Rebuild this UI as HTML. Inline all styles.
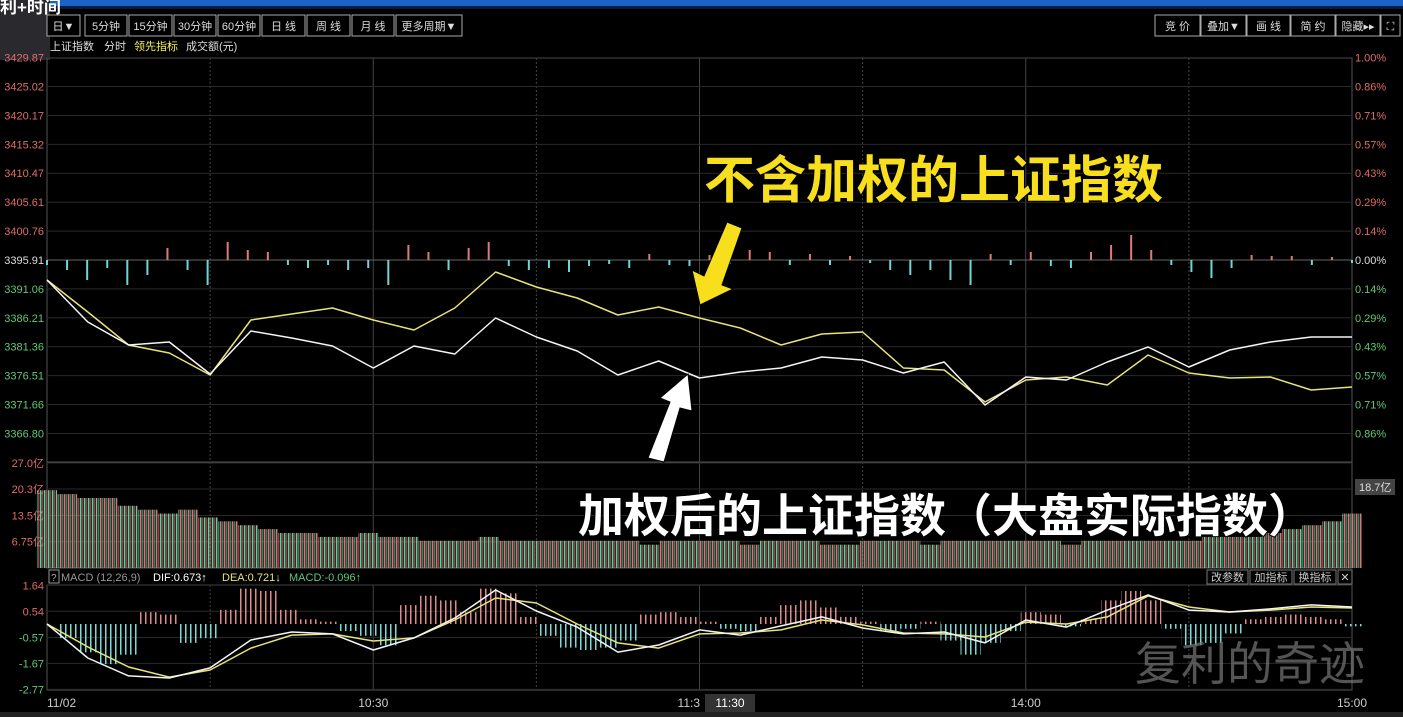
<!DOCTYPE html>
<html><head><meta charset="utf-8"><style>
body{margin:0;background:#000;width:1403px;height:717px;overflow:hidden;font-family:"Liberation Sans","Noto Sans CJK SC",sans-serif}
svg{display:block}
</style></head><body>
<svg id="c" width="1403" height="717" xmlns="http://www.w3.org/2000/svg">
<defs>
<pattern id="pRed" width="4" height="4" patternUnits="userSpaceOnUse"><rect x="0" y="0" width="1.5" height="4" fill="#d07878"/><rect x="2" y="0" width="1.5" height="4" fill="#6ec89a" fill-opacity="0.6"/></pattern>
<pattern id="pGreen" width="4" height="4" patternUnits="userSpaceOnUse"><rect x="0" y="0" width="1.5" height="4" fill="#6ec89a"/><rect x="2" y="0" width="1.5" height="4" fill="#d07878" fill-opacity="0.6"/></pattern>
<pattern id="pMR" width="5" height="4" patternUnits="userSpaceOnUse"><rect x="0" y="0" width="1.5" height="4" fill="#e08a8a"/></pattern>
<pattern id="pMC" width="5" height="4" patternUnits="userSpaceOnUse"><rect x="0" y="0" width="1.5" height="4" fill="#7adada"/></pattern>
</defs>
</svg>
<script>
const priceLevels=[3429.87,3425.02,3420.17,3415.32,3410.47,3405.61,3400.76,3395.91,3391.06,3386.21,3381.36,3376.51,3371.66,3366.80];
const pctLabels=["1.00%","0.86%","0.71%","0.57%","0.43%","0.29%","0.14%","0.00%","0.14%","0.29%","0.43%","0.57%","0.71%","0.86%"];
const whitePrice=[3392.55,3385.51,3381.65,3382.15,3376.78,3384.0,3382.82,3381.48,3377.79,3381.48,3380.14,3386.18,3382.99,3380.64,3376.61,3378.96,3376.11,3377.12,3377.79,3379.63,3379.13,3376.95,3378.79,3371.58,3376.28,3375.77,3378.79,3381.31,3377.96,3380.81,3382.15,3382.99,3382.99];
const yellowPrice=[3392.55,3387.18,3381.65,3380.30,3376.61,3385.84,3386.85,3387.86,3385.84,3384.16,3387.86,3393.90,3391.38,3389.53,3386.68,3388.02,3386.18,3384.50,3381.65,3383.49,3383.83,3377.79,3377.45,3372.08,3375.77,3376.28,3374.93,3379.97,3376.95,3376.11,3376.28,3374.09,3374.60];
const leadBars=[-5,-10,-20,-8,-25,-15,12,-10,-25,18,10,8,-5,-8,-5,-10,-8,-25,15,8,-10,12,18,-6,-10,-8,-12,-6,-4,-8,6,-5,-6,5,-4,10,8,-5,6,-5,4,-3,-10,-15,-10,-20,-25,6,-5,8,-6,-8,8,15,25,10,-5,-12,-18,-8,5,4,4,-5,3,-3];
const volume=[20,19,18,18,16,15,14,15,13,12,11,10,9,9,8,8,9,8,8,7,7,7,8,7,7,7,7,7,7,7,6,7,7,7,7,6,7,7,7,6,6,7,7,7,6,7,7,7,7,7,7,6,7,7,7,7,7,7,8,8,8,9,10,11,12,14];
const volTicks=["27.0亿","20.3亿","13.5亿","6.75亿"];
const volTickVals=[27,20.3,13.5,6.75];
const dif=[0,-1.44,-2.20,-2.29,-1.86,-0.68,-0.34,-0.42,-1.10,-0.59,0.25,1.44,0.55,-0.13,-1.19,-0.89,-0.25,-0.47,-0.08,0.30,-0.17,-0.42,-0.34,-0.80,0.17,-0.13,0.59,1.23,0.59,0.51,0.64,0.81,0.72];
const dea=[0,-0.97,-1.82,-2.25,-1.95,-1.02,-0.47,-0.42,-0.72,-0.59,0.17,1.10,0.89,0,-0.80,-1.02,-0.42,-0.38,-0.25,0.17,-0.04,-0.38,-0.42,-0.55,0.08,0,0.30,1.19,0.72,0.51,0.59,0.72,0.68];
const macdHist=[0,-0.6,-1.2,-1.7,-1.3,0.5,0.4,-0.8,-0.6,0.6,1.5,1.4,0.6,0.2,0.1,-0.3,-0.5,-0.9,0.8,1.2,1.0,0.5,1.5,1.3,0.3,-0.5,-1.0,-1.1,-1.0,-0.7,0.4,0.5,0.3,0.1,-0.2,-0.3,0.3,0.8,1.0,0.7,0.3,0.1,-0.3,-0.2,0.1,-0.7,-1.3,-0.8,-0.3,0.5,0.4,-0.1,0.2,1.0,1.4,1.0,-0.2,-0.9,-0.8,-0.4,0.2,0.3,0.4,0.3,0.2,-0.1];
const macdTicks=[1.64,0.54,-0.57,-1.67,-2.77];
const timeLabels=["11/02","10:30","14:00","15:00"];
const timeFrac=[0,0.25,0.75,1];

const S=document.getElementById('c');const NS="http://www.w3.org/2000/svg";
function el(t,a,txt){const e=document.createElementNS(NS,t);for(const k in a)e.setAttribute(k,a[k]);if(txt!==undefined)e.textContent=txt;S.appendChild(e);return e;}
const X0=47,X1=1352;
const xIdx=(i,n)=>X0+(X1-X0)*i/(n-1);
const yPrice=p=>260-(p-3395.91)/4.85*28.9;
const yVol=v=>568-v*3.89;
const yMacd=v=>624-v*23.6;

let e=el('rect',{x:0,y:0,width:1403,height:6,fill:'#1a63c6'});

el('rect',{x:0,y:6,width:1403,height:3,fill:'#0a1a40'});
e=el('rect',{x:0,y:0,width:50,height:60,fill:'#2a2a2e'});

e=el('text',{x:0,y:13,fill:'#fff','font-size':17,'font-weight':'bold'},'利+时间');


const leftBtns=[["日▼",47,80],["5分钟",85,127],["15分钟",129,172],["30分钟",174,216],["60分钟",218,260],["日 线",262,305],["周 线",307,350],["月 线",352,394],["更多周期▼",396,462]];
leftBtns.forEach(b=>{const r=el('rect',{x:b[1],y:15,width:b[2]-b[1],height:21,fill:'#000',stroke:'#aaa','stroke-width':1});

el('text',{x:(b[1]+b[2])/2,y:30,fill:'#ddd','font-size':11,'text-anchor':'middle'},b[0]);});
const rightBtns=[["竞 价",1155,1200],["叠加▼",1201,1246],["画 线",1247,1290],["简 约",1291,1335],["隐藏▸▸",1336,1380],["⛶",1381,1400]];
rightBtns.forEach(b=>{const r=el('rect',{x:b[1],y:15,width:b[2]-b[1],height:21,fill:'#000',stroke:'#aaa','stroke-width':1});

el('text',{x:(b[1]+b[2])/2,y:30,fill:'#ddd','font-size':11,'text-anchor':'middle'},b[0]);});
e=el('text',{x:50,y:50,fill:'#ddd','font-size':11},'上证指数');
e=el('text',{x:104,y:50,fill:'#ddd','font-size':11},'分时');
e=el('text',{x:134,y:50,fill:'#f0f060','font-size':11},'领先指标');
e=el('text',{x:186,y:50,fill:'#ddd','font-size':11},'成交额(元)');

e=el('rect',{x:X0,y:58,width:X1-X0,height:404,fill:'none',stroke:'#555'});
e=el('rect',{x:X0,y:462,width:X1-X0,height:106,fill:'none',stroke:'#555'});
e=el('rect',{x:X0,y:585,width:X1-X0,height:105,fill:'none',stroke:'#555'});
for(let k=1;k<8;k++){const x=X0+(X1-X0)*k/8;
[[58,462],[462,568],[585,690]].forEach(r=>el('line',{x1:x,x2:x,y1:r[0],y2:r[1],stroke:'#444','stroke-width':1,'stroke-dasharray':k%2?'2,2':''}));}

priceLevels.forEach((p,i)=>{const y=yPrice(p);
el('line',{x1:X0,x2:X1,y1:y,y2:y,stroke:i==7?'#666':'#2a2a2a','stroke-width':1});
const col=i<7?'#e06b6b':(i==7?'#ddd':'#5fc87a');
e=el('text',{x:44,y:y+4,fill:col,'font-size':11,'text-anchor':'end'},p.toFixed(2));

e=el('text',{x:1355,y:y+4,fill:col,'font-size':11},pctLabels[i]);
});

leadBars.forEach((v,i)=>{const x=xIdx(i,leadBars.length);
e=el('line',{x1:x,x2:x,y1:260,y2:260-v,stroke:v>0?'#e07a7a':'#6fd6d6','stroke-width':2});
});

function line(arr,yf,col,name){const n=arr.length;const d=arr.map((v,i)=>(i?'L':'M')+xIdx(i,n).toFixed(1)+','+yf(v).toFixed(1)).join('');
const p=el('path',{d:d,fill:'none',stroke:col,'stroke-width':1.5,'stroke-linejoin':'round'});}
line(yellowPrice,yPrice,'#e8e27a','unweighted-index-line');
line(whitePrice,yPrice,'#f4f4f4','weighted-index-line');

volTickVals.forEach((v,i)=>{const y=yVol(v);el('line',{x1:X0,x2:X1,y1:y,y2:y,stroke:'#2a2a2a'});
e=el('text',{x:44,y:y+4,fill:'#e06b6b','font-size':11,'text-anchor':'end'},volTicks[i]);});
const vw=(X1-X0)/(volume.length-1);
volume.forEach((v,i)=>{const x=xIdx(i,volume.length);
e=el('rect',{x:x-vw/2,y:yVol(v),width:vw,height:568-yVol(v),fill:i%2?'url(#pRed)':'url(#pGreen)'});
});
e=el('rect',{x:1355,y:479,width:40,height:16,fill:'#444'});
el('text',{x:1359,y:491,fill:'#ddd','font-size':11},'18.7亿');

e=el('rect',{x:49,y:570,width:10,height:13,fill:'none',stroke:'#999'});
el('text',{x:51,y:581,fill:'#aaa','font-size':10},'?');
e=el('text',{x:61,y:581,fill:'#999','font-size':11},'MACD (12,26,9)');
el('text',{x:153,y:581,fill:'#fff','font-size':11},'DIF:0.673↑');
el('text',{x:222,y:581,fill:'#e8e27a','font-size':11},'DEA:0.721↓');
el('text',{x:289,y:581,fill:'#5fc87a','font-size':11},'MACD:-0.096↑');
[["改参数",1207,1248],["加指标",1250,1292],["换指标",1294,1336],["✕",1338,1352]].forEach(b=>{const r=el('rect',{x:b[1],y:570,width:b[2]-b[1],height:14,fill:'#000',stroke:'#777'});

el('text',{x:(b[1]+b[2])/2,y:581,fill:'#ccc','font-size':11,'text-anchor':'middle'},b[0]);});
macdTicks.forEach(v=>{const y=yMacd(v);el('line',{x1:X0,x2:X1,y1:y,y2:y,stroke:'#2a2a2a'});
e=el('text',{x:44,y:y+4,fill:v>0?'#e06b6b':'#5fc87a','font-size':11,'text-anchor':'end'},v.toFixed(2));});
const mw=(X1-X0)/(macdHist.length-1);
macdHist.forEach((v,i)=>{const x=xIdx(i,macdHist.length);const y0=yMacd(0),y1=yMacd(v);
e=el('rect',{x:x-mw/2,y:Math.min(y0,y1),width:mw,height:Math.abs(y1-y0),fill:v>0?'url(#pMR)':'url(#pMC)'});
});
line(dea,yMacd,'#e8e27a','dea-line');
line(dif,yMacd,'#f4f4f4','dif-line');

timeLabels.forEach((t,i)=>{const x=X0+(X1-X0)*timeFrac[i];
e=el('text',{x:x,y:707,fill:'#ccc','font-size':12,'text-anchor':i==0?'start':'middle'},t);});
e=el('rect',{x:705,y:694,width:50,height:18,fill:'#333'});
el('text',{x:730,y:707,fill:'#fff','font-size':12,'text-anchor':'middle'},'11:30');
el('text',{x:700,y:707,fill:'#ccc','font-size':12,'text-anchor':'end'},'11:3');
e=el('rect',{x:0,y:712,width:1403,height:5,fill:'#222'});

e=el('text',{x:704,y:198,fill:'#f7df1e',stroke:'#000','stroke-width':2,'paint-order':'stroke','font-size':51,'font-weight':'bold'},'不含加权的上证指数');

e=el('path',{d:'M727,222 L742,228 L722,285 L733,289 L700,305 L692,270 L704,276 Z',fill:'#f7df1e',stroke:'#000','stroke-width':1});

e=el('text',{x:578,y:532,fill:'#fff',stroke:'#000','stroke-width':2,'paint-order':'stroke','font-size':46,'font-weight':'bold'},'加权后的上证指数（大盘实际指数）');

e=el('path',{d:'M648,458 L664,462 L680,408 L692,411 L688,374 L660,398 L670,402 Z',fill:'#fff',stroke:'#000','stroke-width':1});

e=el('text',{x:1135,y:680,fill:'#777','fill-opacity':0.7,'font-size':46},'复利的奇迹');

</script>
</body></html>
